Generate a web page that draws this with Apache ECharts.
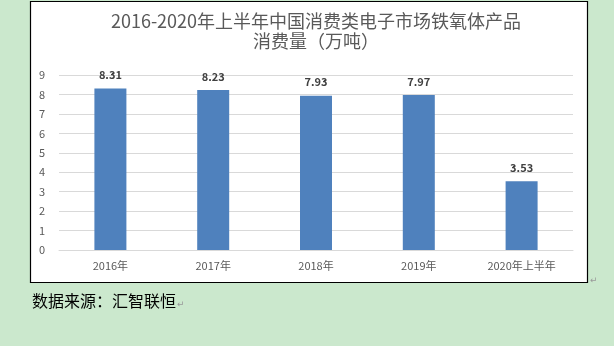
<!DOCTYPE html>
<html>
<head>
<meta charset="utf-8">
<script src="https://cdn.jsdelivr.net/npm/echarts@6/dist/echarts.min.js"></script>
<style>
  html, body { margin: 0; padding: 0; background: #cbe8cd; }
  #main { width: 614px; height: 346px; }
</style>
</head>
<body>
<div id="main"></div>
<script>
  // 数据
  let years = ['2016年', '2017年', '2018年', '2019年', '2020年上半年'];
  let consumption = [8.31, 8.23, 7.93, 7.97, 3.53];
  let titleText = '2016-2020年上半年中国消费类电子市场铁氧体产品\n消费量（万吨）';
  let sourceText = '数据来源：汇智联恒';

  let font = '"Noto Sans CJK SC", "Noto Sans", sans-serif';
  let myChart = echarts.init(document.getElementById('main'));
  let option = {
    backgroundColor: '#cbe8cd',
    textStyle: { fontFamily: font },
    title: {
      text: titleText,
      left: 311,
      textAlign: 'center',
      top: 6,
      textStyle: {
        fontFamily: font,
        fontSize: 18,
        fontWeight: 'normal',
        color: '#595959',
        lineHeight: 20
      }
    },
    graphic: [
      {
        type: 'rect',
        z: -10,
        shape: { x: 30.5, y: 1.5, width: 557, height: 281 },
        style: { fill: '#fff', stroke: '#000', lineWidth: 1.2 }
      },
      {
        type: 'text',
        left: 32,
        top: 293,
        style: { text: sourceText, fontFamily: font, fontSize: 16, fill: '#000' }
      },
      {
        type: 'text',
        left: 177,
        top: 300,
        style: { text: '↵', fontFamily: 'DejaVu Sans', fontSize: 9, fill: '#999' }
      },
      {
        type: 'text',
        left: 590,
        top: 276,
        style: { text: '↵', fontFamily: 'DejaVu Sans', fontSize: 9, fill: '#999' }
      }
    ],
    grid: {
      left: 59,
      right: 41,
      top: 75,
      bottom: 96
    },
    xAxis: {
      type: 'category',
      data: years,
      axisLine: { lineStyle: { color: '#d9d9d9' } },
      axisTick: { show: false },
      axisLabel: { color: '#595959', fontSize: 11, margin: 10, fontFamily: font }
    },
    yAxis: {
      type: 'value',
      min: 0,
      max: 9,
      interval: 1,
      axisLine: { show: false },
      axisTick: { show: false },
      splitLine: { lineStyle: { color: '#d9d9d9' } },
      axisLabel: { color: '#595959', fontSize: 11, margin: 14, fontFamily: font }
    },
    series: [
      {
        type: 'bar',
        data: consumption,
        barWidth: 32,
        itemStyle: { color: '#4f81bd' },
        label: {
          show: true,
          position: 'top',
          distance: 8,
          fontWeight: 'bold',
          fontSize: 11,
          color: '#404040',
          fontFamily: font
        }
      }
    ]
  };
  option && myChart.setOption(option);
</script>
</body>
</html>
